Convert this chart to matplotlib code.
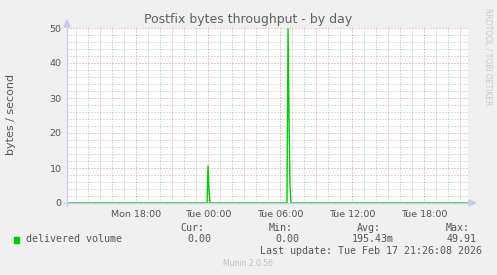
import matplotlib
matplotlib.use("Agg")
import matplotlib.pyplot as plt
from matplotlib.lines import Line2D
from matplotlib.patches import Polygon, Rectangle
import numpy as np

W, H = 497, 275

# ---- data (hours since Mon 00:00) ----
times = [12.25, 23.92, 24.00, 24.08, 24.17, 30.58, 30.67, 30.75, 30.83, 30.92, 45.67]
values = [0.0, 0.0, 10.7, 4.0, 0.0, 0.0, 49.91, 25.0, 5.0, 0.0, 0.0]

x_tick_hours = [18, 24, 30, 36, 42]
x_tick_labels = ["Mon 18:00", "Tue 00:00", "Tue 06:00", "Tue 12:00", "Tue 18:00"]
y_ticks = [0, 10, 20, 30, 40, 50]

series_name = "delivered volume"
stat_heads = ["Cur:", "Min:", "Avg:", "Max:"]
stat_vals = ["0.00", "0.00", "195.43m", "49.91"]

title = "Postfix bytes throughput - by day"
ylabel = "bytes / second"
last_update = "Last update: Tue Feb 17 21:26:08 2026"
footer = "Munin 2.0.56"
side = "RRDTOOL / TOBI OETIKER"

x_min, x_max = 12.25, 12.25 + 401 / 12.0
y_min, y_max = 0, 50

BG = "#F0F0F0"
TXT = "#555555"
GREEN = "#00CC00"
AXC = "#C8C8F0"

def fx(x):
    return x / W

def fy(y):
    return 1 - y / H

fig = plt.figure(figsize=(W / 100, H / 100), dpi=100, facecolor=BG)
ax = fig.add_axes([fx(67), fy(203), 401 / W, 175 / H])
ax.set_facecolor("white")
ax.set_xlim(x_min, x_max)
ax.set_ylim(y_min, y_max)
for s in ax.spines.values():
    s.set_visible(False)

# grids
minor_x = np.arange(13, 46, 1)
major_x = np.arange(15, 46, 3)
DOT = (0, (1, 2))
for h in minor_x:
    if h not in major_x:
        ax.axvline(h, color="#BBBBBB", lw=0.72, ls=DOT, zorder=1)
for h in major_x:
    ax.axvline(h, color="#E09090", lw=0.72, ls=DOT, zorder=2)
for v in range(2, 51, 2):
    if v % 10:
        ax.axhline(v, color="#BBBBBB", lw=0.72, ls=DOT, zorder=1)
for v in range(10, 51, 10):
    ax.axhline(v, color="#E09090", lw=0.72, ls=DOT, zorder=2)

ax.plot(times, values, color=GREEN, lw=1.0, zorder=5, solid_joinstyle="miter")

ax.set_xticks(x_tick_hours)
ax.set_xticklabels(x_tick_labels)
ax.set_yticks(y_ticks)
ax.tick_params(axis="both", length=0, labelsize=6.8, colors=TXT, pad=4)
ax.tick_params(axis="x", pad=5)

# axes lines and arrows
fig.add_artist(Line2D([fx(67), fx(67)], [fy(206), fy(25)], color=AXC, lw=0.9))
fig.add_artist(Line2D([fx(64), fx(470)], [fy(203), fy(203)], color=AXC, lw=0.9))
fig.add_artist(Polygon([[fx(64), fy(27)], [fx(70), fy(27)], [fx(67), fy(20)]],
                       closed=True, color=AXC, transform=fig.transFigure))
fig.add_artist(Polygon([[fx(469), fy(200)], [fx(469), fy(206)], [fx(476), fy(203)]],
                       closed=True, color=AXC, transform=fig.transFigure))

# title and labels
fig.text(fx(248), fy(19), title, ha="center", va="center", fontsize=9.0, color="#606060")
fig.text(fx(11), fy(114), ylabel, ha="center", va="center", rotation=90, fontsize=8, color=TXT)
fig.text(fx(488), fy(8), side, ha="center", va="top", rotation=270, fontsize=5.5, color="#C8C8C8")

mono = "DejaVu Sans Mono"
fig.add_artist(Rectangle((fx(14), fy(243)), 5 / W, 6 / H, color=GREEN, transform=fig.transFigure))
fig.text(fx(26), fy(239), series_name, ha="left", va="center", fontsize=7.2, family=mono, color=TXT)
head_right = [204, 293, 381, 470]
val_right = [211, 299, 394, 477]
for hdr, hr in zip(stat_heads, head_right):
    fig.text(fx(hr), fy(228), hdr, ha="right", va="center", fontsize=7.2, family=mono, color=TXT)
for val, vr in zip(stat_vals, val_right):
    fig.text(fx(vr), fy(239), val, ha="right", va="center", fontsize=7.2, family=mono, color=TXT)
fig.text(fx(482), fy(251), last_update, ha="right", va="center", fontsize=7.2, family=mono, color=TXT)
fig.text(fx(248), fy(264), footer, ha="center", va="center", fontsize=5.5, color="#C0C0C0")

fig.savefig("out.png", dpi=100, facecolor=BG)
